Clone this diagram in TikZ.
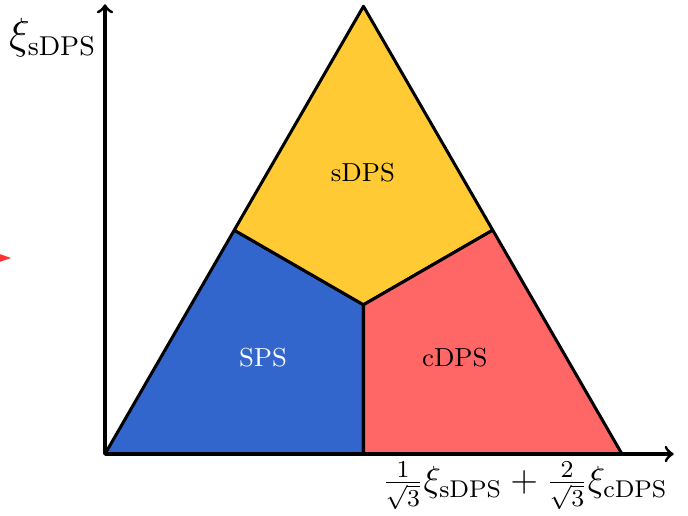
\documentclass[tikz,border=0pt]{standalone}
\usetikzlibrary{positioning}
\definecolor{regsps}{HTML}{3366CC}
\definecolor{regsdps}{HTML}{FFCA33}
\definecolor{regcdps}{HTML}{FF6666}
\definecolor{tipred}{HTML}{FF3333}
\tikzset{
  region/.style={fill=#1, draw=black, line width=1pt, line join=round},
  axisline/.style={->, line width=1pt},
  regionlabel/.style={font=\fontsize{8.6}{10}\selectfont, text=#1},
}
\begin{document}
\begin{tikzpicture}
  \useasboundingbox (-1.2186,-0.708) rectangle (6.766,5.269);
  % corners of the triangle and the region boundaries
  \coordinate (O) at (0,0);
  \coordinate (R) at (6,0);
  \coordinate (T) at (3,5.196);
  \coordinate (ML) at (1.5,2.598);
  \coordinate (MR) at (4.5,2.598);
  \coordinate (MB) at (3,0);
  \coordinate (C) at (3,1.732);
  \draw[region=regsps] (O) -- (ML) -- (C) -- (MB) -- cycle;
  \draw[region=regsdps] (ML) -- (T) -- (MR) -- (C) -- cycle;
  \draw[region=regcdps] (MB) -- (C) -- (MR) -- (R) -- cycle;
  \node[regionlabel=black] (lsdps) at (2.994,3.27) {sDPS};
  \node[regionlabel=white] (lsps) at (1.834,1.114) {SPS};
  \node[regionlabel=black] (lcdps) at (4.06,1.114) {cDPS};
  % axes
  \coordinate (Ytop) at (0,5.22);
  \coordinate (Xend) at (6.6,0);
  \draw[axisline] (O) -- (Ytop);
  \draw[axisline] (O) -- (Xend);
  \node[anchor=east, inner sep=0pt, font=\fontsize{13.4}{16}\selectfont] (ylab) at (-0.093,4.83) {$\xi_{\mathrm{sDPS}}$};
  \node[font=\fontsize{11.6}{14}\selectfont] (xlab) at (4.874,-0.37) {$\frac{1}{\sqrt{3}}\xi_{\mathrm{sDPS}}+\frac{2}{\sqrt{3}}\xi_{\mathrm{cDPS}}$};
  % stray tip at the left edge
  \fill[tipred] (-1.25,2.33) -- (-1.091,2.275) -- (-1.25,2.22) -- cycle;
\end{tikzpicture}
\end{document}
